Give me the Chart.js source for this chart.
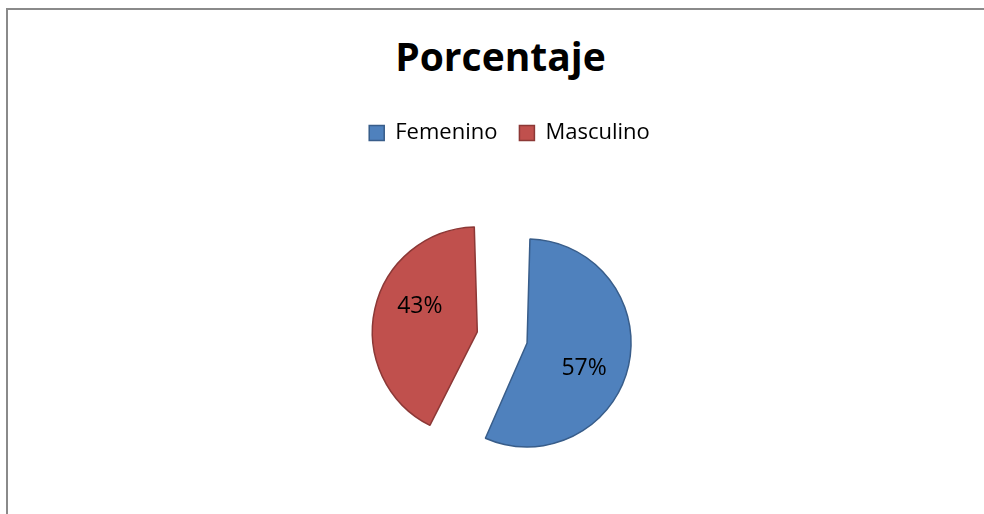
<!DOCTYPE html>
<html lang="es">
<head>
  <meta charset="UTF-8" />
  <title>Porcentaje</title>
  <script src="https://cdn.jsdelivr.net/npm/chart.js"></script>
  <style>
    * { box-sizing: border-box; }
    html, body {
      margin: 0; padding: 0;
      width: 984px; height: 514px;
      overflow: hidden;
      background: #fff;
      font-family: 'Open Sans', sans-serif;
    }
    /* outer chart frame, only left/top edges are visible */
    .frame {
      position: absolute;
      left: 6px; top: 8px;
      width: 1100px; height: 700px;
      border-left: 2px solid #8a8a8a;
      border-top: 2px solid #8a8a8a;
    }
    .title {
      position: absolute;
      left: 0; top: 36px;
      width: 1001px;
      text-align: center;
      font-size: 39px;
      font-weight: 700;
      line-height: 1;
      color: #000;
    }
    .wrap {
      position: absolute;
      left: 0; top: 0;
      width: 984px; height: 530px;
    }
  </style>
</head>
<body>
  <div class="frame"></div>
  <div class="title">Porcentaje</div>
  <div class="wrap"><canvas id="pie"></canvas></div>

<script>
  const labels = ['Femenino', 'Masculino'];
  const values = [57, 43];
  const colors = ['#4F81BD', '#C0504D'];
  const borders = ['#385D8A', '#8C3836'];

  // draws "57%" style labels inside each slice
  const sliceLabels = {
    id: 'sliceLabels',
    afterDatasetsDraw(chart) {
      const ctx = chart.ctx;
      const meta = chart.getDatasetMeta(0);
      const total = values.reduce((a, b) => a + b, 0);
      ctx.save();
      ctx.font = '23px "Open Sans"';
      ctx.fillStyle = '#000';
      ctx.textAlign = 'center';
      ctx.textBaseline = 'middle';
      meta.data.forEach((arc, i) => {
        const p = arc.getProps(['x', 'y', 'startAngle', 'endAngle', 'outerRadius', 'circumference']);
        const mid = (p.startAngle + p.endAngle) / 2;
        // same shift/grow the arc element applies for its offset
        const shift = (arc.options.offset || 0) / 4;
        const grow = shift * (1 - Math.sin(Math.min(Math.PI, p.circumference)));
        const cx = p.x + Math.cos(mid) * shift;
        const cy = p.y + Math.sin(mid) * shift;
        const r = (p.outerRadius + grow) * 0.6;
        const a = mid + 0.2;
        const pct = Math.round(values[i] / total * 100) + '%';
        ctx.fillText(pct, cx + Math.cos(a) * r, cy + Math.sin(a) * r);
      });
      ctx.restore();
    }
  };

  new Chart(document.getElementById('pie'), {
    type: 'pie',
    data: {
      labels,
      datasets: [{
        data: values,
        backgroundColor: colors,
        borderColor: borders,
        borderWidth: 1.5,
        offset: [72, 132],
        radius: 86
      }]
    },
    options: {
      responsive: true,
      maintainAspectRatio: false,
      animation: false,
      layout: { padding: { top: 100, left: 35, right: 0, bottom: 6 } },
      plugins: {
        tooltip: { enabled: false },
        legend: {
          position: 'top',
          labels: {
            boxWidth: 15,
            boxHeight: 15,
            padding: 22,
            color: '#000',
            font: { family: 'Open Sans', size: 22 }
          }
        }
      }
    },
    plugins: [sliceLabels]
  });
</script>
</body>
</html>
